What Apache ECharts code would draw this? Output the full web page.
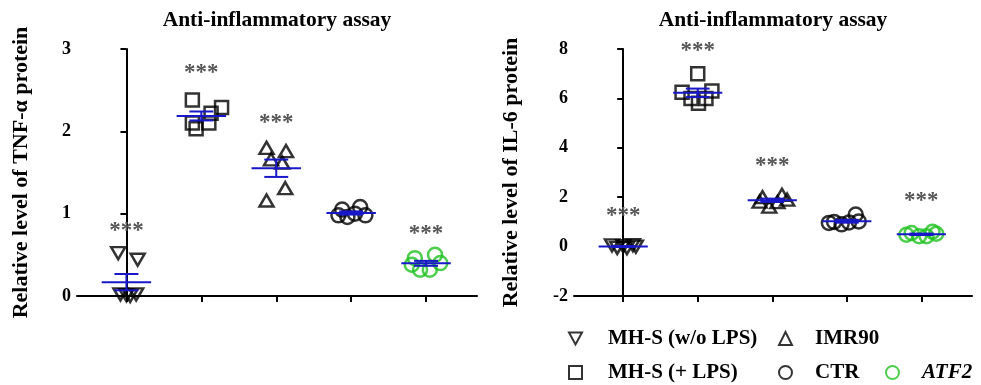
<!DOCTYPE html>
<html><head><meta charset="utf-8">
<script src="https://cdn.jsdelivr.net/npm/echarts@6/dist/echarts.min.js"></script>
<style>html,body{margin:0;padding:0;background:#fff}#c{width:981px;height:385px}</style>
</head><body><div id="c"></div>
<script>
// ---- data ----
const groups = ['MH-S (w/o LPS)', 'MH-S (+ LPS)', 'IMR90', 'CTR', 'ATF2'];

// TNF-α (left panel)
const tnfMHSwo  = [0.52, 0.44, 0.02, 0.01, 0.02, 0.00];
const tnfMHSlps = [2.38, 2.29, 2.22, 2.10, 2.03, 2.10];
const tnfIMR90  = [1.80, 1.76, 1.66, 1.62, 1.31, 1.16];
const tnfCTR    = [1.05, 1.08, 0.96, 0.98, 0.98, 1.00];
const tnfATF2   = [0.46, 0.50, 0.40, 0.32, 0.32, 0.38];
const tnfJitter = [
  [-0.11, 0.15, -0.08, 0.00, 0.13, 0.05],
  [-0.12, 0.27, 0.13, -0.12, -0.07, 0.10],
  [-0.13, 0.13, -0.07, 0.08, 0.12, -0.13],
  [-0.12, 0.12, -0.05, -0.17, 0.19, 0.05],
  [-0.15, 0.12, 0.19, -0.08, 0.05, -0.19]
];
const tnfStars = [0.85, 2.77, 2.16, null, 0.81];
const tnfTicks = [0, 1, 2, 3];

// IL-6 (right panel)
const il6MHSwo  = [0.05, -0.05, 0.02, -0.06, 0.06, 0.00];
const il6MHSlps = [7.00, 6.25, 6.30, 6.00, 6.00, 5.80];
const il6IMR90  = [2.00, 2.10, 1.62, 1.80, 1.82, 1.90];
const il6CTR    = [1.00, 0.90, 0.98, 1.30, 1.02, 0.96];
const il6ATF2   = [0.55, 0.42, 0.60, 0.42, 0.48, 0.52];
const il6Jitter = [
  [-0.15, -0.08, 0.00, 0.05, 0.13, 0.17],
  [0.00, -0.21, 0.19, -0.09, 0.11, 0.01],
  [-0.13, 0.13, -0.04, 0.07, -0.17, 0.20],
  [-0.17, -0.07, 0.03, 0.12, 0.16, -0.24],
  [-0.13, -0.03, 0.15, 0.07, -0.20, 0.20]
];
const il6Stars = [1.44, 8.12, 3.47, null, 2.05];
const il6Ticks = [-2, 0, 2, 4, 6, 8];

const categoryPositions = [0, 1, 2, 3, 4];

// ---- styles ----
const SERIF = 'Liberation Serif';
const BLUE = '#1818c8';
const GREEN = '#1fc21f';
const STAR = '#555';
const symbols = ['path://M0,0L12,0L6,11Z', 'rect', 'triangle', 'circle', 'circle'];
const symbolSizes = [[14, 12], 13, [14, 12], 14, 14];
const colors = ['#000', '#000', '#000', '#000', GREEN];

const tnfData = [tnfMHSwo, tnfMHSlps, tnfIMR90, tnfCTR, tnfATF2];
const il6Data = [il6MHSwo, il6MHSlps, il6IMR90, il6CTR, il6ATF2];

function stats(arr) {
  const n = arr.length;
  const m = arr.reduce((a, b) => a + b, 0) / n;
  const sd = Math.sqrt(arr.reduce((a, b) => a + (b - m) * (b - m), 0) / (n - 1));
  return [m, sd / Math.sqrt(n)];
}

function renderStats(params, api) {
  const x = api.value(0), m = api.value(1), s = api.value(2);
  const st = { stroke: BLUE, lineWidth: 2 };
  const L = (a, b) => ({ type: 'line', shape: { x1: a[0], y1: a[1], x2: b[0], y2: b[1] }, style: st });
  return {
    type: 'group', children: [
      L(api.coord([x - 0.33, m]), api.coord([x + 0.33, m])),
      L(api.coord([x, m - s]), api.coord([x, m + s])),
      L(api.coord([x - 0.16, m + s]), api.coord([x + 0.16, m + s])),
      L(api.coord([x - 0.16, m - s]), api.coord([x + 0.16, m - s]))
    ]
  };
}
function renderStars(params, api) {
  const p = api.coord([api.value(0), api.value(1)]);
  return {
    type: 'text', x: p[0], y: p[1] + 5,
    style: { text: '***', textAlign: 'center', textVerticalAlign: 'middle',
      font: 'bold 23px "Liberation Serif"', fill: STAR }
  };
}

function panelSeries(data, jitter, stars, idx) {
  const out = [];
  data.forEach((vals, g) => {
    out.push({
      type: 'scatter', name: groups[g], xAxisIndex: idx, yAxisIndex: idx,
      symbol: symbols[g], symbolSize: symbolSizes[g],
      itemStyle: { color: 'rgba(255,255,255,0)', borderColor: colors[g], borderWidth: 2.5 },
      data: vals.map((v, i) => [categoryPositions[g] + jitter[g][i], v]),
      z: 2
    });
  });
  out.push({
    type: 'custom', xAxisIndex: idx, yAxisIndex: idx, z: 3,
    renderItem: renderStats, encode: { x: 0, y: 1 },
    data: data.map((vals, g) => [categoryPositions[g], ...stats(vals)])
  });
  out.push({
    type: 'custom', xAxisIndex: idx, yAxisIndex: idx, z: 3,
    renderItem: renderStars, encode: { x: 0, y: 1 },
    data: stars.map((v, g) => [categoryPositions[g], v]).filter(d => d[1] !== null)
  });
  return out;
}

function xAxis(idx) {
  return {
    type: 'value', gridIndex: idx, min: -0.66, max: 4.68,
    axisLine: { show: true, onZero: false, lineStyle: { color: '#000', width: 2 } },
    axisTick: { show: true, length: 6, customValues: categoryPositions, lineStyle: { color: '#000', width: 2 } },
    axisLabel: { show: false },
    splitLine: { show: false }
  };
}
function yAxis(idx, ticks, name, gap) {
  return {
    type: 'value', gridIndex: idx, min: ticks[0], max: ticks[ticks.length - 1],
    interval: ticks[1] - ticks[0],
    name: name, nameLocation: 'middle', nameGap: gap,
    nameTextStyle: { fontFamily: SERIF, fontWeight: 'bold', fontSize: 22, color: '#000' },
    axisLine: { show: true, lineStyle: { color: '#000', width: 2 } },
    axisTick: { show: true, length: 6, lineStyle: { color: '#000', width: 2 } },
    axisLabel: { fontFamily: SERIF, fontWeight: 'bold', fontSize: 18, color: '#000', margin: 6 },
    splitLine: { show: false }
  };
}

function legendItem(name, left, top, pad, italic) {
  return {
    data: [name], left: left, top: top, itemWidth: 13, itemHeight: 13, padding: 0,
    selectedMode: false,
    textStyle: { fontFamily: SERIF, fontWeight: 'bold', fontStyle: italic ? 'italic' : 'normal',
      fontSize: 21, color: '#000', padding: [0, 0, 0, pad] }
  };
}

const chart = echarts.init(document.getElementById('c'), null, { renderer: 'canvas' });
chart.setOption({
  animation: false,
  backgroundColor: '#fff',
  title: [
    { text: 'Anti-inflammatory assay', left: 272, top: 4, textAlign: 'center',
      textStyle: { fontFamily: SERIF, fontWeight: 'bold', fontSize: 21.5, color: '#000' } },
    { text: 'Anti-inflammatory assay', left: 768, top: 4, textAlign: 'center',
      textStyle: { fontFamily: SERIF, fontWeight: 'bold', fontSize: 21.5, color: '#000' } }
  ],
  grid: [
    { left: 77, top: 49, width: 400, height: 247 },
    { left: 574, top: 49, width: 398, height: 247 }
  ],
  xAxis: [xAxis(0), xAxis(1)],
  yAxis: [
    yAxis(0, tnfTicks, 'Relative level of TNF-α protein', 45),
    yAxis(1, il6Ticks, 'Relative level of IL-6 protein', 52)
  ],
  legend: [
    legendItem(groups[0], 568, 328, 21, false),
    legendItem(groups[2], 778, 328, 18, false),
    legendItem(groups[1], 568, 362, 21, false),
    legendItem(groups[3], 778, 362, 18, false),
    legendItem(groups[4], 885, 362, 18, true)
  ],
  series: [
    ...panelSeries(tnfData, tnfJitter, tnfStars, 0),
    ...panelSeries(il6Data, il6Jitter, il6Stars, 1)
  ]
});
</script>
</body></html>
